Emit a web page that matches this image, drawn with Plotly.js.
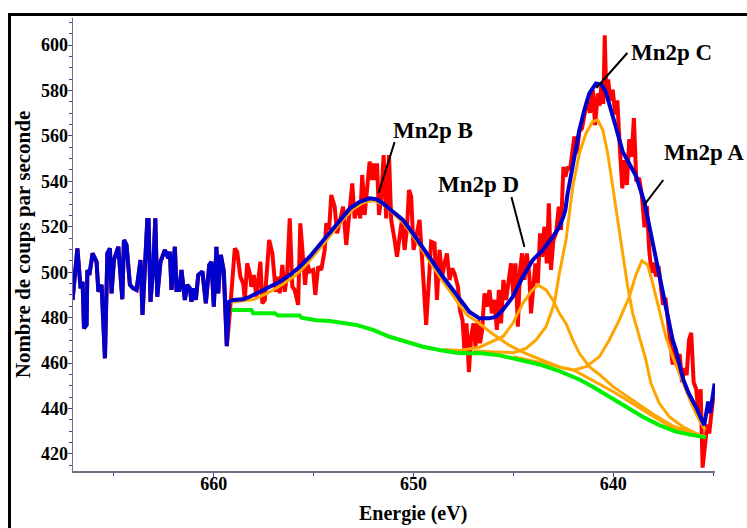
<!DOCTYPE html>
<html>
<head>
<meta charset="utf-8">
<script src="https://cdn.plot.ly/plotly-3.0.1.min.js"></script>
<style>
html,body{margin:0;padding:0;background:#fff;overflow:hidden;}
#wrap{position:relative;width:747px;height:528px;overflow:hidden;}
#chart{position:absolute;left:0;top:0;width:747px;height:528px;}
#frame{position:absolute;left:8px;top:13px;width:800px;height:600px;border:3px solid #000;pointer-events:none;}
</style>
</head>
<body>
<div id="wrap"><div id="chart"></div><div id="frame"></div></div>
<script>
// ---- Raw signal, left region (drawn both red and blue) ----
const leftE = [667.07, 666.83, 666.67, 666.57, 666.50, 666.37, 666.33, 666.23, 666.07, 665.87,
  665.78, 665.62, 665.45, 665.33, 665.20, 665.12, 665.00, 664.78, 664.58, 664.50,
  664.37, 664.20, 664.03, 663.87, 663.67, 663.57, 663.33, 663.27, 663.17, 663.03,
  662.93, 662.83, 662.67, 662.45, 662.28, 662.20, 662.12, 661.95, 661.87, 661.73,
  661.62, 661.45, 661.33, 661.20, 661.12, 661.00, 660.90, 660.78, 660.57, 660.40,
  660.23, 660.12, 660.00, 659.87, 659.78, 659.65, 659.50, 659.35];
const leftV = [487.8, 510.5, 492.9, 495.8, 475.3, 476.8, 501.0, 498.8, 508.3, 504.6,
  491.4, 494.4, 462.1, 508.3, 510.5, 490.7, 505.4, 511.2, 488.1, 514.2,
  512.0, 494.4, 492.9, 492.2, 505.4, 481.2, 523.0, 523.0, 487.0, 502.4,
  523.7, 489.2, 504.6, 509.8, 506.1, 509.0, 492.2, 511.2, 492.2, 492.2,
  501.0, 487.8, 494.4, 492.9, 487.0, 492.9, 487.8, 498.8, 500.3, 486.3,
  503.2, 504.6, 484.8, 511.2, 490.7, 507.6, 500.3, 467.5];

// ---- Raw signal (red), fitted region ----
const rawE = [659.2, 658.95, 658.83, 658.67, 658.53, 658.45, 658.33, 658.2, 658.12, 658.0,
  657.87, 657.67, 657.57, 657.45, 657.23, 657.07, 656.9, 656.78, 656.7, 656.57,
  656.45, 656.33, 656.2, 656.07, 655.95, 655.78, 655.67, 655.53, 655.43, 655.33,
  655.2, 655.03, 654.92, 654.78, 654.62, 654.45, 654.37, 654.23, 654.12, 653.95,
  653.83, 653.7, 653.53, 653.37, 653.23, 653.07, 652.95, 652.78, 652.67, 652.57,
  652.45, 652.33, 652.2, 652.1, 652.0, 651.9, 651.83, 651.73, 651.62, 651.5,
  651.37, 651.23, 651.12, 650.95, 650.83, 650.7, 650.58, 650.45, 650.33, 650.23,
  650.12, 650.0, 649.87, 649.7, 649.57, 649.37, 649.23, 649.12, 648.95, 648.83,
  648.7, 648.57, 648.45, 648.33, 648.2, 648.07, 647.95, 647.78, 647.67, 647.55,
  647.45, 647.35, 647.23, 647.12, 647.0, 646.9, 646.78, 646.67, 646.57, 646.45,
  646.33, 646.2, 646.08, 645.95, 645.83, 645.73, 645.62, 645.5, 645.37, 645.23,
  645.12, 645.0, 644.9, 644.78, 644.67, 644.57, 644.45, 644.33, 644.2, 644.12,
  644.0, 643.9, 643.78, 643.67, 643.57, 643.45, 643.33, 643.23, 643.12, 643.0,
  642.87, 642.73, 642.62, 642.5, 642.4, 642.28, 642.17, 642.03, 641.95, 641.83,
  641.7, 641.57, 641.45, 641.31, 641.17, 641.03, 640.91, 640.78, 640.68, 640.61,
  640.5, 640.43, 640.36, 640.26, 640.15, 640.03, 639.9, 639.8, 639.68, 639.55,
  639.45, 639.32, 639.2, 639.09, 638.97, 638.85, 638.71, 638.57, 638.44, 638.32,
  638.21, 638.09, 637.97, 637.86, 637.74, 637.62, 637.51, 637.39, 637.26, 637.16,
  637.03, 636.91, 636.81, 636.68, 636.56, 636.45, 636.33, 636.21, 636.1, 635.98,
  635.85, 635.75, 635.63, 635.53, 635.4, 635.3, 635.2, 635.1, 635.0];
const rawV = [481.9, 510.5, 509.0, 498.0, 495.1, 487.8, 503.9, 499.5, 493.6, 498.8,
  489.2, 504.6, 486.3, 487.8, 514.2, 508.3, 491.4, 498.0, 490.7, 503.2,
  491.4, 498.8, 523.7, 493.6, 492.2, 485.6, 521.5, 505.4, 494.4, 503.9,
  500.3, 501.0, 490.0, 502.4, 501.0, 509.8, 521.5, 518.6, 534.0, 528.9,
  517.1, 522.0, 528.9, 512.0, 526.0, 539.1, 523.7, 530.3, 523.7, 542.8,
  525.2, 536.2, 548.7, 540.6, 547.9, 540.6, 547.9, 525.2, 532.5, 551.6,
  523.7, 551.6, 523.0, 514.2, 506.8, 515.6, 523.0, 509.8, 519.3, 536.2,
  533.3, 509.8, 515.6, 523.0, 505.4, 476.8, 496.6, 513.4, 512.7, 487.8,
  509.8, 498.0, 503.9, 508.3, 496.6, 501.7, 499.5, 493.6, 483.0, 479.0,
  465.0, 477.5, 456.0, 471.6, 477.5, 467.2, 479.0, 468.7, 474.6, 490.7,
  484.8, 492.2, 481.9, 487.8, 474.6, 492.2, 477.5, 496.6, 487.8, 498.0,
  503.9, 489.2, 503.9, 476.0, 501.0, 508.3, 496.6, 508.3, 498.0, 481.9,
  495.1, 503.9, 495.1, 517.1, 506.8, 520.0, 503.9, 530.3, 501.0, 514.2,
  517.1, 528.8, 518.6, 546.4, 542.0, 546.4, 545.0, 556.7, 559.7, 552.3,
  562.0, 563.3, 568.5, 575.6, 570.2, 580.3, 564.8, 578.7, 573.3, 581.8,
  574.1, 604.3, 580.3, 584.9, 575.6, 580.3, 569.4, 575.6, 555.5, 536.9,
  549.3, 538.4, 558.6, 550.8, 567.9, 540.0, 541.5, 533.8, 519.8, 529.1,
  510.5, 499.7, 504.3, 498.1, 502.8, 495.0, 485.7, 488.8, 478.0, 470.2,
  459.4, 467.1, 459.4, 464.0, 451.6, 457.8, 454.7, 470.2, 473.3, 451.6,
  448.5, 439.2, 448.5, 414.0, 425.0, 433.0, 429.0, 436.0, 445.0];

// ---- Fitted envelope (blue) ----
const fitE = [659.24, 659.03, 658.53, 658.2, 657.7, 657.2, 656.7, 656.2, 655.7, 655.2,
  654.7, 654.37, 653.87, 653.2, 652.7, 652.2, 651.87, 651.53, 651.03, 650.53,
  650.03, 649.53, 649.03, 648.53, 648.03, 647.53, 647.2, 646.7, 646.2, 645.87,
  645.53, 645.03, 644.53, 644.03, 643.53, 643.03, 642.7, 642.5, 642.4, 642.3,
  642.2, 641.95, 641.7, 641.45, 641.2, 640.87, 640.6, 640.38, 640.1, 639.85,
  639.53, 639.24, 638.87, 638.45, 638.2, 637.87, 637.56, 637.37, 637.03, 636.87,
  636.51, 636.24, 635.87, 635.45];
const fitV = [487.0, 487.8, 488.1, 489.2, 491.4, 493.6, 495.8, 498.8, 502.4, 506.8,
  512.5, 515.6, 520.8, 528.0, 531.0, 532.5, 532.1, 530.3, 526.6, 523.0,
  517.1, 510.5, 503.9, 498.0, 492.2, 486.3, 482.5, 479.7, 479.7, 480.4,
  483.4, 489.2, 498.0, 505.4, 509.8, 515.6, 520.0, 524.5, 527.5, 534.0,
  539.1, 550.0, 562.6, 571.4, 578.7, 583.1, 582.6, 579.5, 570.0, 563.2,
  553.0, 548.5, 542.5, 531.0, 520.0, 505.4, 493.5, 483.4, 470.2, 465.8,
  453.0, 447.0, 440.8, 432.7];
const tailE = [635.35, 635.25, 635.15, 635.05, 634.93];
const tailV = [437.0, 443.0, 438.0, 445.0, 451.0];

// ---- Background (green) ----
const bgE = [659.12, 658.12, 658.03, 656.95, 656.78, 655.7, 655.62, 654.87, 654.2, 653.37,
  652.87, 652.03, 651.2, 650.37, 649.53, 648.7, 647.87, 647.2, 646.7, 645.7,
  644.7, 643.7, 642.7, 641.7, 641.03, 640.2, 639.37, 638.53, 637.7, 636.87,
  636.03, 635.37];
const bgV = [483.4, 483.4, 481.9, 481.9, 480.9, 480.9, 480.0, 478.9, 478.5, 477.2,
  476.8, 474.6, 471.6, 469.4, 467.2, 465.8, 464.6, 464.3, 464.4, 463.4,
  461.4, 459.4, 456.5, 452.8, 449.6, 445.2, 440.8, 436.4, 432.7, 429.8,
  428.3, 427.3];

// ---- Components (orange, background included) ----
const peakB_E = [659.2, 658.5, 658.0, 657.5, 657.0, 656.5, 656.0, 655.5, 655.0, 654.5,
  654.0, 653.5, 653.0, 652.5, 652.0, 651.5, 651.0, 650.5, 650.0, 649.5,
  649.0, 648.5, 648.0, 647.7, 647.3, 646.87, 646.03, 645.2, 644.37, 643.53,
  642.7, 641.95, 641.0, 640.0, 639.0, 638.0, 637.0, 636.0, 635.4];
const peakB_V = [486.8, 487.4, 488.0, 490.0, 492.3, 495.0, 498.0, 502.0, 507.0, 512.5,
  518.0, 523.5, 528.0, 530.7, 531.6, 529.7, 525.8, 521.6, 515.6, 508.8,
  502.0, 495.5, 489.5, 485.5, 481.0, 478.5, 472.8, 467.8, 464.2, 461.2,
  458.3, 456.8, 452.4, 447.4, 442.0, 436.5, 431.4, 428.5, 427.5];
const peakC_E = [647.0, 646.0, 645.0, 644.37, 643.87, 643.37, 642.95, 642.7, 642.37, 642.03,
  641.7, 641.37, 641.03, 640.78, 640.53, 640.28, 640.03, 639.78, 639.53, 639.28,
  639.03, 638.7, 638.37, 638.12, 637.7, 637.2, 636.53, 635.7, 635.4];
const peakC_V = [465.3, 464.8, 464.6, 466.5, 470.2, 476.0, 486.3, 499.5, 514.2, 537.6,
  552.3, 561.1, 566.3, 567.0, 562.6, 552.3, 537.6, 523.0, 508.3, 493.6,
  481.9, 471.6, 461.4, 451.1, 442.3, 436.4, 432.0, 428.3, 427.7];
const peakD_E = [648.5, 647.7, 646.7, 646.03, 645.53, 645.03, 644.53, 644.12, 643.78, 643.37,
  643.03, 642.7, 642.37, 642.03, 641.7, 641.2, 640.7, 640.0, 639.0, 638.0,
  637.0, 636.0, 635.4];
const peakD_V = [466.0, 465.5, 467.0, 469.5, 471.6, 477.5, 486.3, 491.4, 494.4, 492.2,
  487.8, 481.9, 477.5, 470.2, 464.3, 458.4, 455.0, 449.5, 443.5, 437.5,
  432.2, 429.0, 427.6];
const peakA_E = [645.0, 644.0, 643.0, 642.5, 641.95, 641.37, 640.7, 640.2, 639.7, 639.2,
  638.87, 638.57, 638.28, 638.03, 637.7, 637.37, 637.03, 636.7, 636.37, 636.03,
  635.7, 635.4];
const peakA_V = [462.8, 461.0, 459.0, 457.8, 457.0, 458.4, 462.8, 470.2, 479.0, 489.2,
  498.8, 505.0, 503.2, 495.1, 483.4, 471.6, 462.8, 455.5, 448.1, 440.8,
  434.9, 430.6];

// ---- Peak labels: text, pointed position [E, V], line end [E, V], text centre [E, V] ----
const labelText = ['Mn2p B', 'Mn2p D', 'Mn2p C', 'Mn2p A'];
const labelPoint = [[651.75, 534.9], [644.45, 511.1], [640.85, 581.1], [638.45, 529.6]];
const labelLineEnd = [[650.95, 557.3], [645.1, 533.1], [639.3, 596.5], [637.5, 540.6]];
const labelPos = [[649.05, 562.6], [646.73, 538.8], [637.1, 596.9], [635.45, 552.9]];

const xTitle = 'Energie (eV)';
const yTitle = 'Nombre de coups par seconde';

const serif = 'Liberation Serif, Times New Roman, serif';
const purple = '#5a3a9a';

const traces = [
  {x: leftE.concat(rawE), y: leftV.concat(rawV), mode: 'lines', name: 'raw',
   line: {color: '#ff0000', width: 4}},
  {x: peakB_E, y: peakB_V, mode: 'lines', name: 'B', line: {color: '#ffa500', width: 3}},
  {x: peakD_E, y: peakD_V, mode: 'lines', name: 'D', line: {color: '#ffa500', width: 3}},
  {x: peakC_E, y: peakC_V, mode: 'lines', name: 'C', line: {color: '#ffa500', width: 3}},
  {x: peakA_E, y: peakA_V, mode: 'lines', name: 'A', line: {color: '#ffa500', width: 3}},
  {x: bgE, y: bgV, mode: 'lines', name: 'bg', line: {color: '#00ee00', width: 4}},
  {x: leftE.concat(fitE, tailE), y: leftV.concat(fitV, tailV), mode: 'lines', name: 'fit',
   line: {color: '#0000cd', width: 4}}
];

const shapes = labelPoint.map((p, i) => ({
  type: 'line', xref: 'x', yref: 'y',
  x0: p[0], y0: p[1], x1: labelLineEnd[i][0], y1: labelLineEnd[i][1],
  line: {color: '#000', width: 2}
}));

const annotations = labelText.map((t, i) => ({
  x: labelPos[i][0], y: labelPos[i][1], xref: 'x', yref: 'y',
  text: t, showarrow: false, xanchor: 'center', yanchor: 'middle',
  font: {family: serif, size: 23, color: '#000', weight: 'bold'}
}));
// x-axis title, centred where the reference puts it
annotations.push({
  x: 0.5296, y: 0, xref: 'paper', yref: 'paper', yshift: -55,
  text: xTitle, showarrow: false, xanchor: 'center', yanchor: 'bottom',
  borderpad: 0,
  font: {family: serif, size: 20, color: '#000', weight: 'bold'}
});

const layout = {
  width: 747, height: 528,
  margin: {l: 73, r: 32, t: 18, b: 57},
  paper_bgcolor: '#fff', plot_bgcolor: '#fff',
  showlegend: false,
  xaxis: {
    range: [667.05, 634.91], tick0: 0, dtick: 10,
    ticks: 'outside', ticklen: 4, tickwidth: 1, tickcolor: purple,
    ticklabelstandoff: -8,
    minor: {dtick: 5, ticks: 'outside', ticklen: 3, tickcolor: purple},
    showline: true, linecolor: '#707080', linewidth: 1.5,
    showgrid: false, zeroline: false,
    tickfont: {family: serif, size: 18, color: '#000', weight: 'bold'}
  },
  yaxis: {
    range: [412.5, 611.9], tick0: 0, dtick: 20,
    ticks: 'outside', ticklen: 4, tickwidth: 1, tickcolor: purple,
    ticklabelstandoff: -4,
    minor: {dtick: 5, ticks: 'outside', ticklen: 3, tickcolor: purple},
    showline: true, linecolor: '#707080', linewidth: 1.5,
    showgrid: false, zeroline: false,
    tickfont: {family: serif, size: 18, color: '#000', weight: 'bold'},
    title: {text: yTitle, standoff: 4,
            font: {family: serif, size: 21, color: '#000', weight: 'bold'}}
  },
  shapes: shapes,
  annotations: annotations
};

Plotly.newPlot('chart', traces, layout, {displayModeBar: false, staticPlot: true});
</script>
</body>
</html>
